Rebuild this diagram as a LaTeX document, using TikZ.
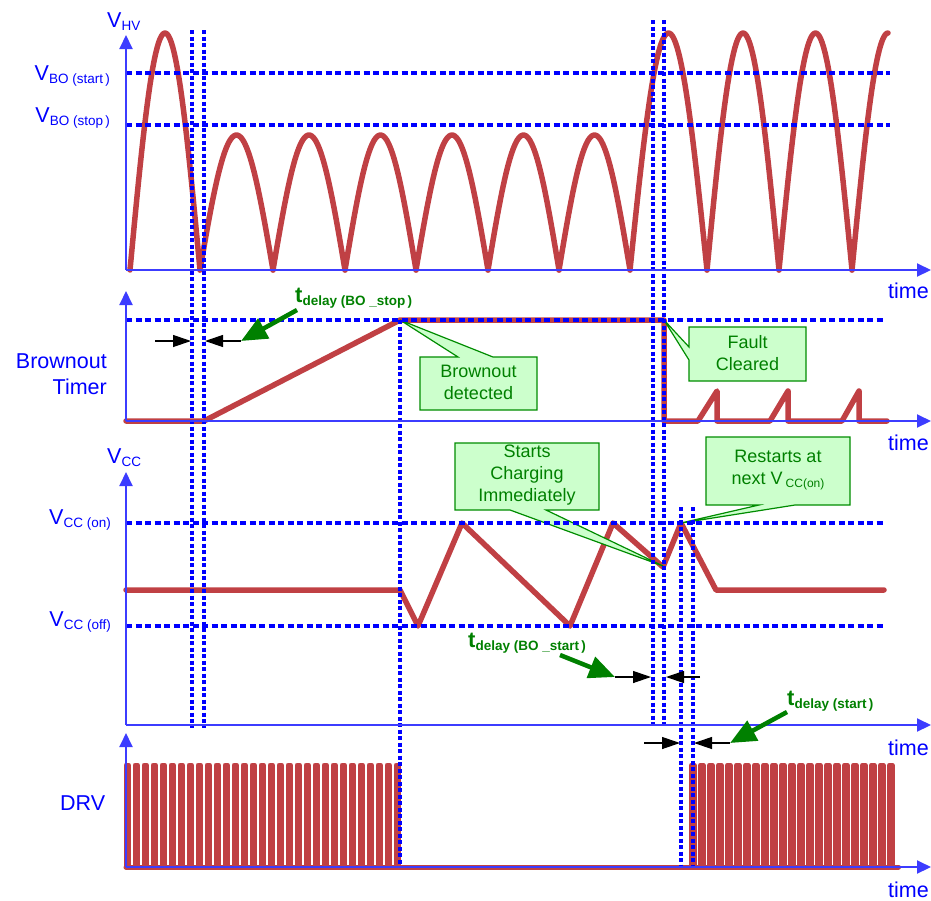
\documentclass[tikz,border=0pt]{standalone}
\usepackage{fontspec}
\setmainfont{Liberation Sans}
\usetikzlibrary{arrows.meta}
\definecolor{wred}{RGB}{192,64,68}
\definecolor{axblue}{RGB}{60,60,255}
\definecolor{dblue}{RGB}{0,0,255}
\definecolor{tgreen}{RGB}{0,128,0}
\definecolor{cfill}{RGB}{204,255,204}
\definecolor{cline}{RGB}{0,140,0}
\newcommand\lbl[2]{{\fontsize{21.5}{21.5}\selectfont #1}\raisebox{-3pt}{\fontsize{13.5}{13.5}\selectfont #2}}
\newcommand\tdl[1]{{\bfseries\fontsize{22}{22}\selectfont t}\raisebox{-3pt}{\bfseries\fontsize{13.5}{13.5}\selectfont #1}}
\begin{document}
\begin{tikzpicture}[x=1pt,y=-1pt,
  wave/.style={wred, line width=5.5pt, line cap=round, line join=round},
  axis/.style={axblue, line width=2pt, -{Triangle[length=14pt,width=13pt]}},
  hdash/.style={dblue, line width=3.4pt, dash pattern=on 6pt off 3.5pt},
  vdash/.style={dblue, line width=3.4pt, dash pattern=on 4pt off 2.5pt},
  blab/.style={text=dblue, inner sep=0pt},
  dim/.style={black, line width=1.2pt, -{Triangle[length=18pt,width=12pt]}},
  garrow/.style={tgreen, line width=4.5pt, -{Triangle[length=26pt,width=22pt]}},
  callout/.style={fill=cfill, draw=cline, line width=1.2pt, line join=miter},
  ctext/.style={text=tgreen, align=center, font=\fontsize{18}{22}\selectfont, inner sep=0pt}]
\useasboundingbox (0,0) rectangle (931,900);

% ---- V_HV waveform ----
\draw[wave] plot[domain=130:200, samples=50] (\x, {270-237*sin(180*(\x-130)/70)});
\foreach \a/\b in {200/273, 273/345, 345/416, 416/488, 488/559, 559/630}
  \draw[wave] plot[domain=\a:\b, samples=40] (\x, {270-135*sin(180*(\x-\a)/(\b-\a))});
\foreach \a/\b in {630/707, 707/779, 779/852}
  \draw[wave] plot[domain=\a:\b, samples=50] (\x, {270-237*sin(180*(\x-\a)/(\b-\a))});
\draw[wave] plot[domain=852:888, samples=30] (\x, {270-237*sin(180*(\x-852)/72)});

% ---- Brownout timer waveform ----
\draw[wave] (126,421) -- (204,421) -- (400,320) -- (664,320) -- (664,421) -- (698,421)
  -- (717,391) -- (717,421) -- (770,421) -- (788,391) -- (788,421) -- (842,421)
  -- (859,391) -- (859,421) -- (887,421);

% ---- VCC waveform ----
\draw[wave] (126,590) -- (400,590) -- (418,626) -- (462,523) -- (570,626) -- (613,523)
  -- (663,567) -- (681,523) -- (716,590) -- (884,590);

% ---- DRV waveform ----
\draw[wave, line width=5pt] (126,867) -- (893,867);
\draw[wave, line width=5pt] (126,867) \foreach \i in {0,...,30} {
  -- ({126+9*\i},765) -- ({128.5+9*\i},765) -- ({128.5+9*\i},867) -- ({135+9*\i},867) };
\draw[wave, line width=5pt] (691.5,867) \foreach \i in {0,...,22} {
  -- ({691.5+9*\i},765) -- ({694+9*\i},765) -- ({694+9*\i},867) -- ({700.5+9*\i},867) };

% ---- callouts ----
\draw[callout] (420,357) -- (458,357) -- (400,320) -- (493,357) -- (537,357) -- (537,410) -- (420,410) -- cycle;
\node[ctext] (cbo) at (478.5,382) {Brownout\\detected};
\draw[callout] (689,327) -- (806,327) -- (806,381) -- (689,381) -- (689,360) -- (664,320) -- (689,347) -- cycle;
\node[ctext] (cfc) at (747.5,353) {Fault\\Cleared};
\draw[callout] (455,443) -- (599,443) -- (599,510) -- (546,510) -- (663,566) -- (510,510) -- (455,510) -- cycle;
\node[ctext] (csc) at (527,475) {Starts\\Charging\\Immediately};
\draw[callout] (706,437) -- (850,437) -- (850,505) -- (795,505) -- (681,523) -- (759,505) -- (706,505) -- cycle;
\node[ctext] (crs) at (778,470) {Restarts at\\next V\,\raisebox{-3pt}{\fontsize{12}{12}\selectfont CC(on)}};

% ---- dashed guide lines ----
\draw[hdash] (126,73) -- (890,73);
\draw[hdash] (126,125) -- (890,125);
\draw[hdash] (126,320) -- (884,320);
\draw[hdash] (126,523) -- (884,523);
\draw[hdash] (126,626) -- (884,626);
\draw[vdash] (192,30) -- (192,728);
\draw[vdash] (204,30) -- (204,728);
\draw[vdash] (400,320) -- (400,867);
\draw[vdash] (653,20) -- (653,728);
\draw[vdash] (664,20) -- (664,728);
\draw[vdash] (681,507) -- (681,867);
\draw[vdash] (693,507) -- (693,867);

% ---- axes ----
\coordinate (o1) at (126,270); \coordinate (y1) at (126,35); \coordinate (x1) at (931,270);
\coordinate (o2) at (126,421); \coordinate (y2) at (126,291); \coordinate (x2) at (931,421);
\coordinate (o3) at (126,725); \coordinate (y3) at (126,472); \coordinate (x3) at (931,725);
\coordinate (o4) at (126,867); \coordinate (y4) at (126,733); \coordinate (x4) at (931,867);
\foreach \k in {1,2,3,4} {
  \draw[axis] (o\k) -- (y\k);
  \draw[axis] (o\k) -- (x\k);
}

% ---- labels ----
\node[blab, anchor=base west] (lvhv) at (107,27) {\lbl{V}{HV}};
\node[blab, anchor=base east] (lbos) at (110,80) {\lbl{V}{BO (start\,)}};
\node[blab, anchor=base east] (lbop) at (110,122) {\lbl{V}{BO (stop\,)}};
\node[blab, anchor=base west] (lvcc) at (107,463) {\lbl{V}{CC}};
\node[blab, anchor=base east] (lvon) at (111,524) {\lbl{V}{CC (on)}};
\node[blab, anchor=base east] (lvof) at (111,626) {\lbl{V}{CC (off)}};
\node[blab, anchor=base east, font=\fontsize{21.5}{21.5}\selectfont] (lbt1) at (107,368) {Brownout};
\node[blab, anchor=base east, font=\fontsize{21.5}{21.5}\selectfont] (lbt2) at (107,394) {Timer};
\node[blab, anchor=base west, font=\fontsize{21.5}{21.5}\selectfont] (ldrv) at (60,810) {DRV};
\foreach \yy/\nm in {298/t1, 450/t2, 755/t3, 897/t4}
  \node[blab, anchor=base west, font=\fontsize{21.5}{21.5}\selectfont] (\nm) at (888,\yy) {time};

% ---- delay annotations ----
\node[text=tgreen, inner sep=0pt, anchor=base west] (td1) at (295,302) {\tdl{delay (BO \_stop\,)}};
\node[text=tgreen, inner sep=0pt, anchor=base west] (td2) at (468,647) {\tdl{delay (BO \_start\,)}};
\node[text=tgreen, inner sep=0pt, anchor=base west] (td3) at (787,705) {\tdl{delay (start\,)}};

\coordinate (a1s) at (155,341); \coordinate (a1e) at (191,341);
\coordinate (a2s) at (241,341); \coordinate (a2e) at (205,341);
\coordinate (a3s) at (615,677); \coordinate (a3e) at (651,677);
\coordinate (a4s) at (700,677); \coordinate (a4e) at (666,677);
\coordinate (a5s) at (644,743); \coordinate (a5e) at (680,743);
\coordinate (a6s) at (730,743); \coordinate (a6e) at (694,743);
\foreach \k in {1,...,6} \draw[dim] (a\k s) -- (a\k e);

\coordinate (g1s) at (297,310); \coordinate (g2s) at (560,655); \coordinate (g3s) at (787,712);
\draw[garrow] (g1s) -- (a2s);
\draw[garrow] (g2s) -- (a3s);
\draw[garrow] (g3s) -- (a6s);
\end{tikzpicture}
\end{document}
